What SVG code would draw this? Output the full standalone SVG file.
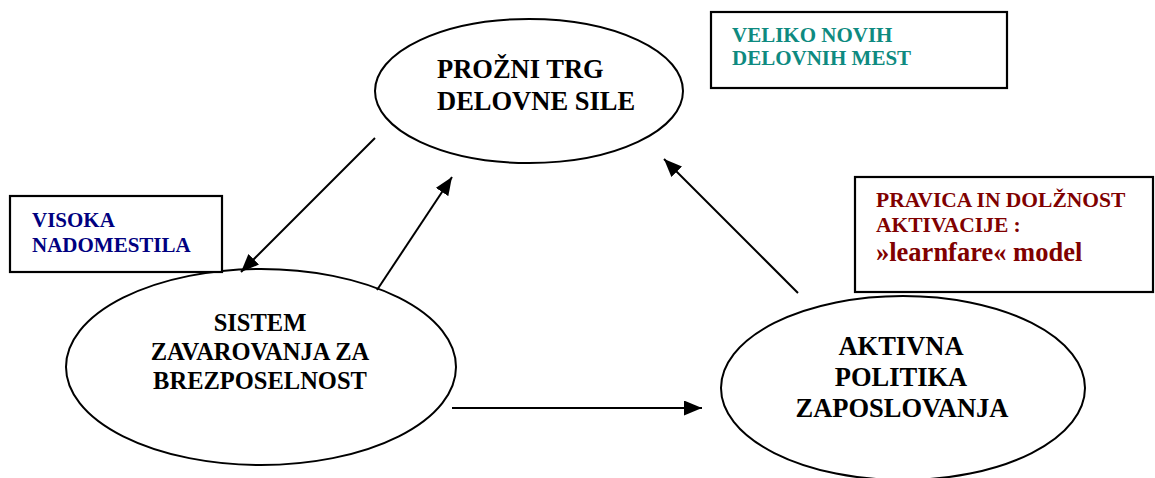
<svg xmlns="http://www.w3.org/2000/svg" width="1155" height="478" viewBox="0 0 1155 478">
<style>
.ell{fill:#fff;stroke:#000;stroke-width:2}
.box{fill:#fff;stroke:#000;stroke-width:2.2}
.t{font-family:"Liberation Serif","Times New Roman",serif;font-weight:bold}
.n{font-size:24.5px;fill:#000}
.teal{fill:#0e8a80;font-size:21px}
.red{fill:#800000;font-size:21.5px}
.navy{fill:#000080;font-size:21px}
.con{stroke:#000;stroke-width:2;fill:none;marker-end:url(#ah)}
</style>
<defs>
<marker id="ah" markerUnits="userSpaceOnUse" markerWidth="19" markerHeight="15" refX="18" refY="7.5" orient="auto">
<path d="M0,0 L18,7.5 L0,15 z" fill="#000"/>
</marker>
</defs>
<rect width="1155" height="478" fill="#fff"/>
<g id="node-trg">
<ellipse class="ell" cx="529" cy="91" rx="154" ry="72"/>
<text class="t n" style="font-size:26.5px" x="437" y="78">PROŽNI TRG</text>
<text class="t n" style="font-size:26.5px" x="437" y="110">DELOVNE SILE</text>
</g>
<g id="node-sistem">
<ellipse class="ell" cx="261" cy="367" rx="195" ry="98"/>
<text class="t n" text-anchor="middle" x="260" y="331">SISTEM</text>
<text class="t n" text-anchor="middle" x="260" y="360">ZAVAROVANJA ZA</text>
<text class="t n" text-anchor="middle" x="260" y="389">BREZPOSELNOST</text>
</g>
<g id="node-aktivna">
<ellipse class="ell" cx="903" cy="388" rx="182" ry="92"/>
<text class="t n" style="font-size:26.5px" text-anchor="middle" x="901" y="355">AKTIVNA</text>
<text class="t n" style="font-size:26.5px" text-anchor="middle" x="901" y="386">POLITIKA</text>
<text class="t n" style="font-size:26.5px" text-anchor="middle" x="902" y="417">ZAPOSLOVANJA</text>
</g>
<g id="box-veliko">
<rect class="box" x="711" y="12" width="296" height="76"/>
<text class="t teal" x="732" y="42">VELIKO NOVIH</text>
<text class="t teal" x="732" y="65">DELOVNIH MEST</text>
</g>
<g id="box-pravica">
<rect class="box" x="855" y="177" width="298" height="115"/>
<text class="t red" x="876" y="207">PRAVICA IN DOLŽNOST</text>
<text class="t red" x="876" y="232">AKTIVACIJE :</text>
<text class="t" style="fill:#800000;font-size:26.5px" x="876" y="261">»learnfare« model</text>
</g>
<g id="box-visoka">
<rect class="box" x="10" y="196" width="212" height="76"/>
<text class="t navy" x="32" y="227">VISOKA</text>
<text class="t navy" x="32" y="252">NADOMESTILA</text>
</g>
<g id="connectors">
<line class="con" x1="375" y1="138" x2="241" y2="272"/>
<line class="con" x1="377" y1="290" x2="452" y2="177"/>
<line class="con" x1="452" y1="408" x2="702" y2="408"/>
<line class="con" x1="798" y1="293" x2="664" y2="159"/>
</g>
</svg>
